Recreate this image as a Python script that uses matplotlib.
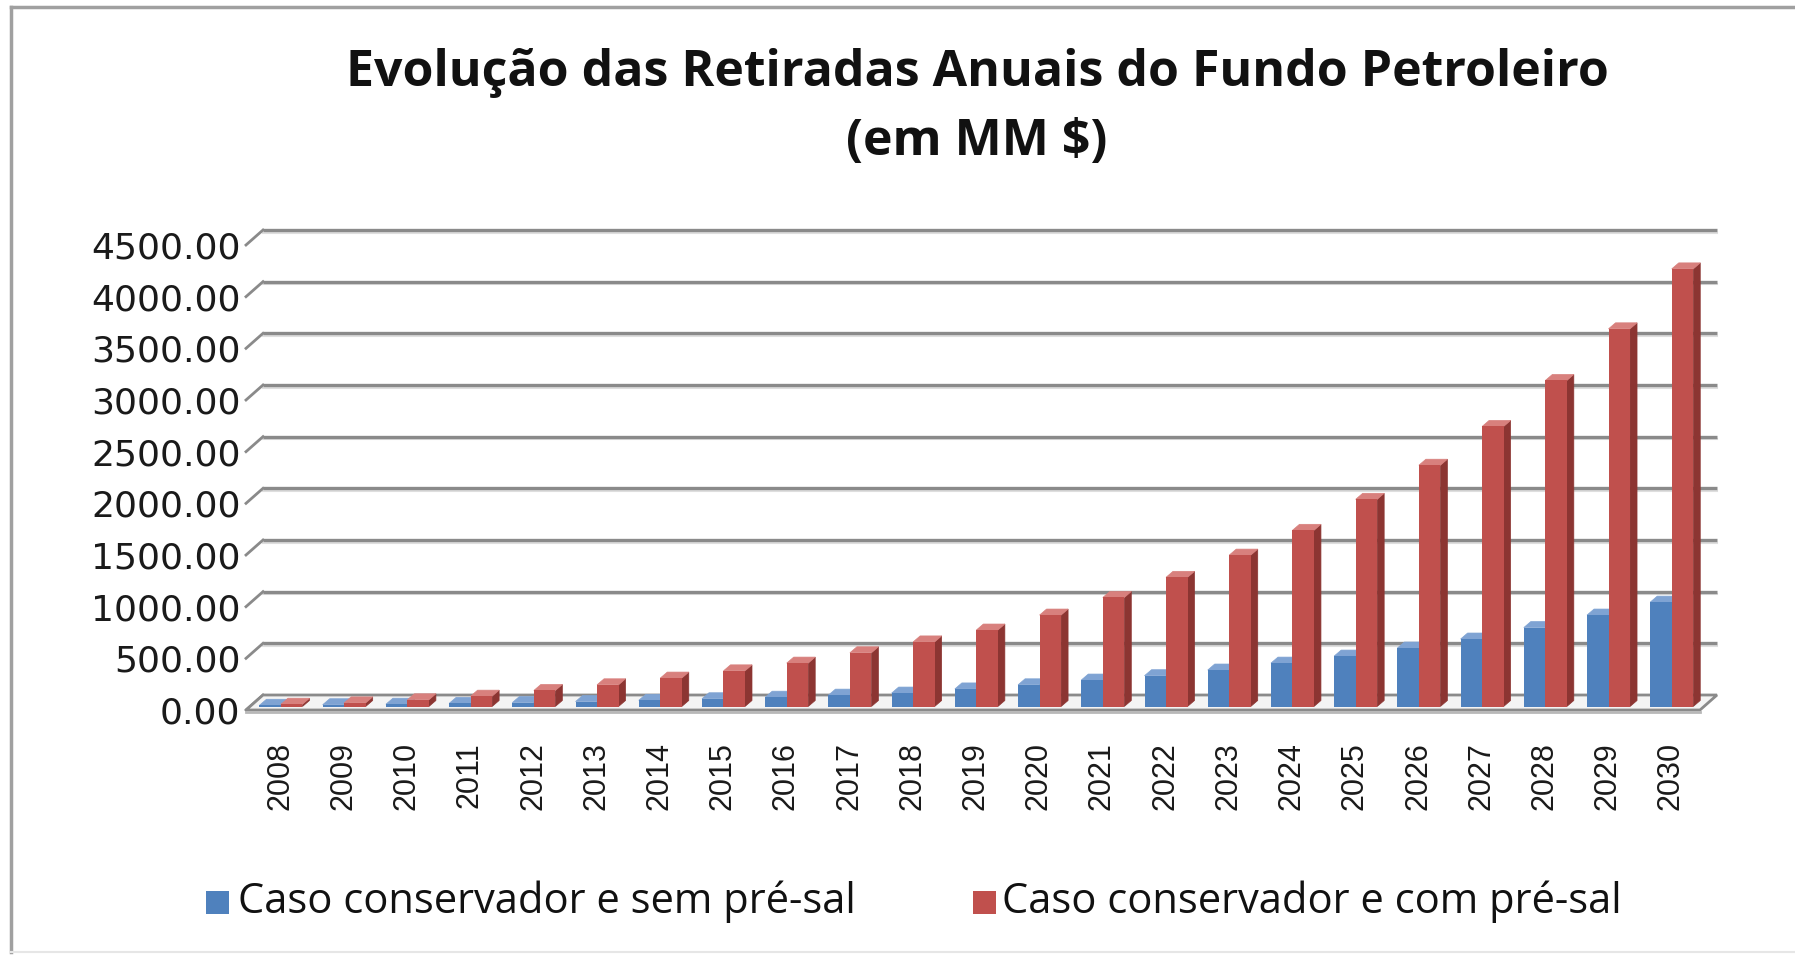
import matplotlib
matplotlib.use("Agg")
import matplotlib.pyplot as plt
from matplotlib.patches import Polygon, Rectangle
from matplotlib.lines import Line2D

# ---------------- data ----------------
years = [str(y) for y in range(2008, 2031)]
sem_pre_sal = [12, 17, 22, 30, 38, 48, 60, 75, 90, 110, 130, 170, 210, 256, 298, 353, 420, 488, 566, 653, 764, 885, 1010]
com_pre_sal = [22, 35, 65, 100, 155, 210, 275, 345, 420, 520, 625, 740, 885, 1055, 1250, 1465, 1705, 2005, 2335, 2710, 3155, 3655, 4235]
series_names = ["Caso conservador e sem pré-sal", "Caso conservador e com pré-sal"]
yticks = [0, 500, 1000, 1500, 2000, 2500, 3000, 3500, 4000, 4500]
title_lines = ["Evolução das Retiradas Anuais do Fundo Petroleiro", "(em MM $)"]

BLUE = "#4F81BD"
BLUE_SIDE = "#345F92"
BLUE_TOP = "#7FA3D3"
RED = "#C0504D"
RED_SIDE = "#8C3532"
RED_TOP = "#D8807D"
GRID = "#8a8a8a"

W_PX, H_PX = 1795, 956
fig = plt.figure(figsize=(W_PX / 100, H_PX / 100), dpi=100)
fig.patch.set_facecolor("white")

# axes in front plane
left_px, right_px, bottom_px, top_px = 246, 1700, 710, 245
L = left_px / W_PX
B = (H_PX - bottom_px) / H_PX
Wd = (right_px - left_px) / W_PX
Ht = (bottom_px - top_px) / H_PX
ax = fig.add_axes([L, B, Wd, Ht])
x0, x1 = -0.54, 22.46
ymax = 4500
ax.set_xlim(x0, x1)
ax.set_ylim(0, ymax)
for s in ax.spines.values():
    s.set_visible(False)
ax.patch.set_alpha(0)

ppx = (right_px - left_px) / (x1 - x0)
ppy = (bottom_px - top_px) / ymax
dx = lambda p: p / ppx
dy = lambda p: p / ppy

# back wall offset
BX, BY = dx(17), dy(15)

# floor
floor = Polygon([(x0, 0), (x1, 0), (x1 + BX, BY), (x0 + BX, BY)], closed=True,
                facecolor="#f4f4f4", edgecolor=GRID, lw=2.0, clip_on=False, zorder=1)
ax.add_patch(floor)
ax.plot([x0, x1], [dy(-1.5), dy(-1.5)], color="#b8b8b8", lw=2, clip_on=False, zorder=1)

# gridlines on back wall + left wall stubs
for v in yticks:
    if v > 0:
        ax.plot([x0 + BX, x1 + BX], [v + BY, v + BY], color=GRID, lw=2.4,
                clip_on=False, zorder=0.5, solid_capstyle="butt")
        ax.plot([x0 + BX, x1 + BX], [v + BY - dy(2.5), v + BY - dy(2.5)], color="#dedede",
                lw=1.5, clip_on=False, zorder=0.4)
    ax.plot([x0, x0 + BX], [v, v + BY], color=GRID, lw=2.0, clip_on=False, zorder=0.5)

# bars (pseudo 3D)
FX, FY = dx(4), dy(3.5)   # front face offset from front plane
DX, DY = dx(7), dy(6)     # bar depth
bw = 0.34


def bar3d(xl, val, side, top):
    xr = xl + bw
    xl_, xr_ = xl + FX, xr + FX
    b_, t_ = FY, val + FY
    ax.add_patch(Polygon([(xr_, b_), (xr_ + DX, b_ + DY), (xr_ + DX, t_ + DY), (xr_, t_)],
                         closed=True, facecolor=side, edgecolor=side, lw=0.5, zorder=3, clip_on=False))
    ax.add_patch(Polygon([(xl_, t_), (xr_, t_), (xr_ + DX, t_ + DY), (xl_ + DX, t_ + DY)],
                         closed=True, facecolor=top, edgecolor=top, lw=0.5, zorder=3, clip_on=False))


for i in range(len(years)):
    xb = i - 0.39
    xr = xb + bw
    bar3d(xb, sem_pre_sal[i], BLUE_SIDE, BLUE_TOP)
    ax.bar(xb + FX, sem_pre_sal[i], width=bw, bottom=FY, align="edge", color=BLUE,
           zorder=3.1, clip_on=False, linewidth=0)
    bar3d(xr, com_pre_sal[i], RED_SIDE, RED_TOP)
    ax.bar(xr + FX, com_pre_sal[i], width=bw, bottom=FY, align="edge", color=RED,
           zorder=3.2, clip_on=False, linewidth=0)

# ticks
ax.set_yticks(yticks)
ax.set_yticklabels([f"{v:.2f}" for v in yticks], fontsize=26, family="DejaVu Sans", color="#1a1a1a")
ax.set_xticks(range(len(years)))
ax.set_xticklabels(years, rotation=90, fontsize=22, family="Liberation Sans", color="#1a1a1a")
ax.tick_params(axis="y", length=0, pad=4)
ax.tick_params(axis="x", length=0, pad=23)

# title
fig.text(977 / W_PX, 1 - 73 / H_PX, title_lines[0], ha="center", va="center",
         fontsize=36, fontweight="bold", family="Open Sans", color="#111111")
fig.text(977 / W_PX, 1 - 142 / H_PX, title_lines[1], ha="center", va="center",
         fontsize=36, fontweight="bold", family="Open Sans", color="#111111")

# legend
leg_y = 1 - 902 / H_PX
sq = 23
for (sx, tx, col, name) in [(206, 238, BLUE, series_names[0]), (973, 1002, RED, series_names[1])]:
    fig.patches.append(Rectangle((sx / W_PX, leg_y - (sq / 2) / H_PX), sq / W_PX, sq / H_PX,
                                 transform=fig.transFigure, facecolor=col, edgecolor="none"))
    fig.text(tx / W_PX, leg_y, name, ha="left", va="center", fontsize=30,
             family="Open Sans", color="#111111")

# chart border
fig.add_artist(Line2D([11 / W_PX, 11 / W_PX], [0.004, 1 - 7 / H_PX], transform=fig.transFigure,
                      color="#a0a0a0", lw=2.5))
fig.add_artist(Line2D([11 / W_PX, 1.0], [1 - 7 / H_PX, 1 - 7 / H_PX], transform=fig.transFigure,
                      color="#a0a0a0", lw=2.5))
fig.add_artist(Line2D([11 / W_PX, 1.0], [0.004, 0.004], transform=fig.transFigure,
                      color="#e6e6e6", lw=1.5))

fig.savefig("out.png", dpi=100)
